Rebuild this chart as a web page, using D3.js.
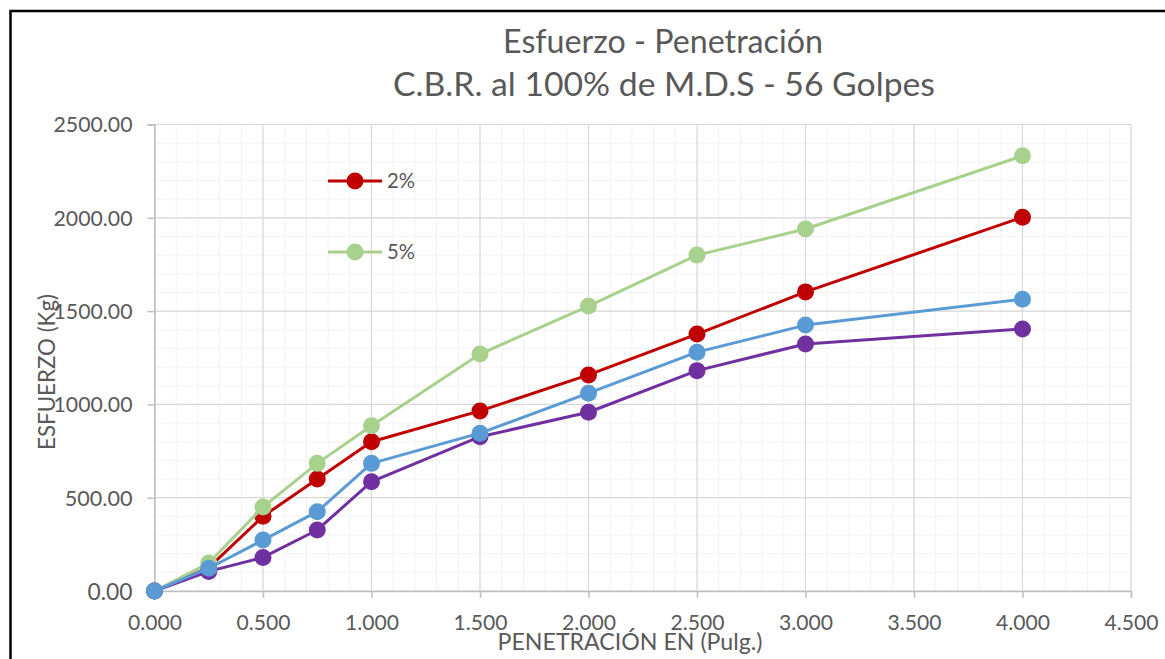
<!DOCTYPE html>
<html>
<head>
<meta charset="utf-8">
<script src="https://cdn.jsdelivr.net/npm/d3@7"></script>
<style>
  html, body { margin: 0; padding: 0; background: #fff; }
  svg { display: block; }
  text { font-family: Lato, "Open Sans", "Noto Sans", sans-serif; fill: #595959; }
</style>
</head>
<body>
<svg id="chart" width="1165" height="659"></svg>
<script>
// ---- data ----
const penetration = [0, 0.25, 0.5, 0.75, 1.0, 1.5, 2.0, 2.5, 3.0, 4.0];
const serie2pct   = [0, 125, 400, 600, 800, 965, 1158, 1377, 1603, 2003];
const serie5pct   = [0, 150, 450, 684, 886, 1270, 1527, 1800, 1940, 2332];
const serieBlue   = [0, 122, 273, 425, 684, 846, 1060, 1280, 1425, 1564];
const seriePurple = [0, 105, 180, 327, 586, 827, 958, 1181, 1324, 1404];
const xTicks = [0, 0.5, 1.0, 1.5, 2.0, 2.5, 3.0, 3.5, 4.0, 4.5];
const yTicks = [0, 500, 1000, 1500, 2000, 2500];
const titleLines = ["Esfuerzo - Penetración", "C.B.R. al 100% de M.D.S - 56 Golpes"];
const xTitle = "PENETRACIÓN EN (Pulg.)";
const yTitle = "ESFUERZO (Kg)";

const series = [
  { name: "2%", values: serie2pct, color: "#C00000", legend: true },
  { name: "5%", values: serie5pct, color: "#A9D18E", legend: true },
  { name: "S3", values: seriePurple, color: "#7030A0", legend: false },
  { name: "S4", values: serieBlue, color: "#5B9BD5", legend: false }
];

const svg = d3.select("#chart");
const L = 154.5, R = 1131, T = 124.5, B = 591;
const x = d3.scaleLinear().domain([0, 4.5]).range([L, R]);
const y = d3.scaleLinear().domain([0, 2500]).range([B, T]);

function fit(sel, w) {
  const base = 20;
  sel.style("font-size", base + "px");
  const m = sel.node().getComputedTextLength();
  sel.style("font-size", (base * w / m).toFixed(2) + "px");
  return sel;
}

// frame
svg.append("rect").attr("x", 10.5).attr("y", 11).attr("width", 1300).attr("height", 800)
  .attr("fill", "none").attr("stroke", "#000").attr("stroke-width", 2.5);

// minor grid
const g = svg.append("g");
d3.range(0, 4.5001, 0.1).forEach(v => {
  g.append("line").attr("x1", x(v)).attr("x2", x(v)).attr("y1", T).attr("y2", B)
    .attr("stroke", "#F2F2F2").attr("stroke-width", 1);
});
d3.range(0, 2500.1, 100).forEach(v => {
  g.append("line").attr("x1", L).attr("x2", R).attr("y1", y(v)).attr("y2", y(v))
    .attr("stroke", "#F2F2F2").attr("stroke-width", 1);
});
// major grid
xTicks.forEach(v => {
  g.append("line").attr("x1", x(v)).attr("x2", x(v)).attr("y1", T).attr("y2", B)
    .attr("stroke", "#D9D9D9").attr("stroke-width", 1.2);
});
yTicks.forEach(v => {
  g.append("line").attr("x1", L).attr("x2", R).attr("y1", y(v)).attr("y2", y(v))
    .attr("stroke", "#D9D9D9").attr("stroke-width", 1.2);
});

// axes
const xAxis = d3.axisBottom(x).tickValues(xTicks).tickFormat(d3.format(".3f")).tickSize(7).tickPadding(14);
const yAxis = d3.axisLeft(y).tickValues(yTicks).tickFormat(d3.format(".2f")).tickSize(7).tickPadding(15);
const gx = svg.append("g").attr("transform", `translate(0,${B})`).call(xAxis);
const gy = svg.append("g").attr("transform", `translate(${L},0)`).call(yAxis);
[gx, gy].forEach(a => {
  a.select(".domain").attr("stroke", "#BFBFBF").attr("stroke-width", 1.5);
  a.selectAll(".tick line").attr("stroke", "#BFBFBF").attr("stroke-width", 1.5);
  a.selectAll("text").attr("fill", "#595959").style("font-family", "Lato, sans-serif");
});
gy.selectAll("text").each(function() { fit(d3.select(this), 79 * d3.select(this).text().length / 7); });
gx.selectAll("text").each(function() { fit(d3.select(this), 54); });
gx.selectAll("text").attr("dy", null).attr("y", 39);
gy.selectAll("text").attr("dy", "0.35em");

// lines
const line = d3.line().x((d, i) => x(penetration[i])).y(d => y(d));
series.forEach(s => {
  const gs = svg.append("g");
  gs.append("path").datum(s.values).attr("d", line).attr("fill", "none")
    .attr("stroke", s.color).attr("stroke-width", 3).attr("stroke-linejoin", "round");
  gs.selectAll("circle").data(s.values).join("circle")
    .attr("cx", (d, i) => x(penetration[i])).attr("cy", d => y(d)).attr("r", 8.5)
    .attr("fill", s.color);
});

// legend
const legendYs = [181, 252];
series.filter(s => s.legend).forEach((s, i) => {
  const ly = legendYs[i];
  svg.append("line").attr("x1", 328).attr("x2", 382).attr("y1", ly).attr("y2", ly)
    .attr("stroke", s.color).attr("stroke-width", 3);
  svg.append("circle").attr("cx", 355).attr("cy", ly).attr("r", 8.5).attr("fill", s.color);
  fit(svg.append("text").attr("x", 387).attr("y", ly).attr("dy", "0.35em").text(s.name), 28);
});

// titles
fit(svg.append("text").attr("x", 663).attr("y", 53).attr("text-anchor", "middle").text(titleLines[0]), 320);
fit(svg.append("text").attr("x", 664).attr("y", 96).attr("text-anchor", "middle").text(titleLines[1]), 542);
fit(svg.append("text").attr("x", 630).attr("y", 650).attr("text-anchor", "middle").text(xTitle), 265);
fit(svg.append("text").attr("transform", "translate(55,372) rotate(-90)").attr("text-anchor", "middle").text(yTitle), 156);
</script>
</body>
</html>
